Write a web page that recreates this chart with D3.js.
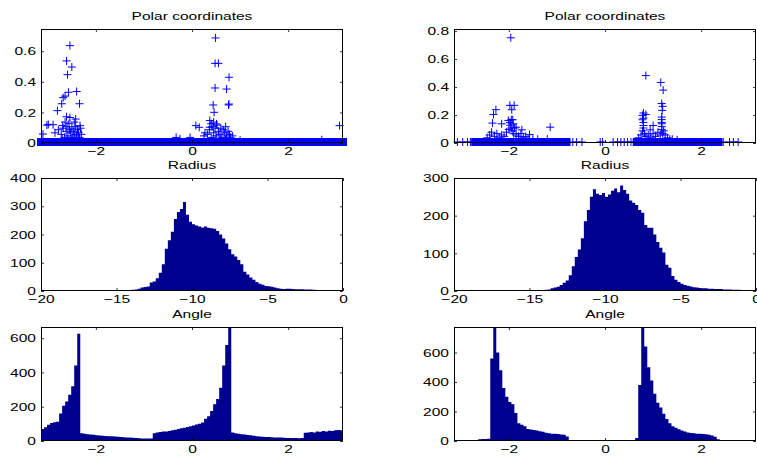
<!DOCTYPE html>
<html>
<head>
<meta charset="utf-8">
<style>
  body { margin: 0; background: #fff; }
  svg { display: block; background: #fff; }
  text { font-family: 'Liberation Sans', Arial, Helvetica, sans-serif; font-size: 11.5px; fill: #000; }
</style>
</head>
<body>
<svg width="757" height="457"></svg>

<script src="https://d3js.org/d3.v7.min.js"></script>
<script>
// ---- data ----
const PI = Math.PI;

// radius histograms: bins of 0.2 starting at -15 (everything below -15 is empty)
const radiusStart = -15, radiusBin = 0.2;
const radiusLeft = [2,2,3,3,3,4,5, 8,12,14,
  16,30,34,45,65,95,150,180,210,255,
  280,290,315,270,245,236,232,228,225,228,
  224,222,220,212,200,186,168,148,130,122,
  110,95,68,58,48,40,32,26,22,18,
  17,15,12,10,8,7,8,8,7,6,
  6,6,5,5,5,4,3,3,3,2,
  2,2,2,2,2];
const radiusRight = [1,1,2,2,2,3,4, 7,9,11,
  16,22,28,42,66,90,110,140,185,215,
  250,270,258,255,260,250,256,266,272,262,
  280,268,258,240,234,228,215,208,175,168,
  168,150,130,115,102,70,62,40,30,24,
  19,16,14,12,10,9,8,7,7,6,
  6,5,5,5,4,4,4,3,3,3,
  2,2,2,2,2];

// angle histograms: 100 bins over [-pi, pi]
const angleLeft = [70,80,95,105,110,112,160,205,230,270,
  320,440,625,45,42,40,38,36,34,32,
  30,29,28,27,26,25,24,22,21,20,
  19,18,16,15,14,14,15,45,50,52,
  55,56,58,62,66,70,74,78,82,86,
  90,96,100,108,130,145,175,215,245,310,
  440,560,690,50,45,42,40,38,35,33,
  30,28,26,25,24,23,22,21,20,20,
  19,18,18,17,17,16,17,48,50,52,
  50,55,54,58,55,60,58,62,64,62];
const angleRight = [4,4,4,5,5,4,5,5,12,13,
  14,16,560,790,600,480,360,300,265,250,
  190,120,110,100,82,78,74,72,66,62,
  56,52,50,50,47,44,42,30,5,4,
  4,4,5,4,4,4,5,4,4,4,
  4,5,4,4,4,5,4,4,5,6,
  20,380,790,640,500,410,320,260,228,185,
  150,120,100,90,80,72,65,58,55,52,
  50,50,48,46,42,38,28,12,4,4,
  3,3,4,3,3,3,4,3,3,3];

// polar scatter: [angle, radius]
const scatterLeft = [
  [-2.54,0.63],[-2.61,0.53],[-2.50,0.49],[-2.59,0.44],[-2.57,0.325],[-2.40,0.33],
  [-2.64,0.30],[-2.68,0.29],[-2.71,0.25],[-2.34,0.25],[-2.80,0.205],[-2.61,0.165],
  [-2.54,0.16],[-2.42,0.15],[-2.99,0.115],[-2.89,0.113],[-3.02,0.11],[-2.69,0.107],
  [-2.33,0.107],[-3.10,0.052],
  [-2.85,0.06],[-2.78,0.08],[-2.72,0.05],[-2.68,0.09],[-2.65,0.03],[-2.62,0.07],
  [-2.60,0.10],[-2.58,0.04],[-2.55,0.08],[-2.53,0.06],[-2.50,0.09],[-2.48,0.03],
  [-2.46,0.07],[-2.44,0.05],[-2.42,0.10],[-2.40,0.04],[-2.38,0.08],[-2.36,0.06],
  [-2.34,0.03],[-2.32,0.09],[-2.30,0.05],[-2.60,0.02],[-2.70,0.02],[-2.50,0.02],
  [-2.40,0.02],[-2.56,0.12],[-2.45,0.13],[-2.64,0.13],
  [0.49,0.68],[0.48,0.514],[0.55,0.514],[0.77,0.423],[0.48,0.353],[0.72,0.346],
  [0.44,0.242],[0.76,0.242],[0.77,0.248],[0.46,0.194],[0.37,0.14],[0.08,0.107],
  [0.15,0.096],[0.51,0.118],[0.37,0.096],
  [0.32,0.05],[0.36,0.08],[0.40,0.03],[0.42,0.10],[0.45,0.06],[0.48,0.09],
  [0.50,0.04],[0.52,0.11],[0.55,0.07],[0.58,0.05],[0.60,0.09],[0.62,0.03],
  [0.65,0.08],[0.68,0.06],[0.70,0.10],[0.72,0.04],[0.75,0.07],[0.78,0.05],
  [0.80,0.03],[0.84,0.04],[0.50,0.02],[0.60,0.02],[0.70,0.02],[0.40,0.12],
  [0.45,0.13],[-0.33,0.03],[-0.25,0.02],[-0.04,0.03],[0.25,0.04],[0.27,0.06],
  [1.00,0.012],[2.70,0.015],[3.07,0.107]
];
const scatterRight = [
  [-1.96,0.745],[-2.32,0.197],[-2.27,0.231],[-1.98,0.262],[-1.89,0.262],[-1.94,0.231],
  [-2.34,0.135],[-2.15,0.13],[-2.01,0.154],[-1.92,0.159],[-1.85,0.106],[-1.73,0.087],
  [-1.57,0.053],[-1.14,0.106],
  [-2.45,0.03],[-2.40,0.05],[-2.36,0.07],[-2.30,0.04],[-2.25,0.06],[-2.20,0.03],
  [-2.15,0.05],[-2.10,0.04],[-2.05,0.07],[-2.00,0.09],[-1.97,0.12],[-1.95,0.10],
  [-1.93,0.08],[-1.90,0.06],[-1.88,0.10],[-1.85,0.05],[-1.80,0.04],[-1.75,0.06],
  [-1.70,0.03],[-1.65,0.04],[-1.60,0.02],[-1.50,0.02],[-1.40,0.02],[-1.20,0.02],
  [-1.95,0.16],[-1.98,0.14],[-1.91,0.13],
  [0.85,0.475],[1.16,0.426],[1.21,0.371],[1.18,0.275],[1.20,0.255],[1.19,0.226],
  [0.80,0.207],[0.85,0.197],[0.78,0.159],[1.18,0.178],[0.80,0.118],[1.00,0.118],
  [1.18,0.13],[0.94,0.087],
  [0.70,0.03],[0.75,0.05],[0.78,0.08],[0.80,0.10],[0.82,0.06],[0.85,0.04],
  [0.80,0.14],[0.80,0.17],[0.90,0.05],[0.95,0.03],[1.00,0.06],[1.05,0.04],
  [1.10,0.07],[1.15,0.05],[1.18,0.09],[1.18,0.11],[1.18,0.14],[1.18,0.16],
  [1.20,0.06],[1.22,0.08],[1.25,0.05],[1.30,0.03],[1.35,0.02],[1.40,0.02],
  [1.50,0.015],[0.78,0.19],
  // sparse floor points
  [-3.07,0],[-2.96,0],[-2.86,0],[-2.80,0],[-2.72,0],[-0.67,0],[-0.59,0],[-0.48,0],
  [-0.10,0],[-0.05,0],[0.17,0],[0.26,0],[0.33,0],[0.40,0],[0.47,0],[0.54,0],[0.61,0],
  [2.46,0],[2.59,0],[2.67,0],[2.77,0]
];
// angle ranges where the points at radius ~0 form a solid strip
const floorLeft = [[-PI, PI]];
const floorRight = [[-2.70, -0.80], [0.66, 2.36]];

// axis ticks
const angleTicks = [-2, 0, 2];
const radiusTicks = [-20, -15, -10, -5, 0];
const polarYTicksL = [0, 0.2, 0.4, 0.6];
const polarYTicksR = [0, 0.2, 0.4, 0.6, 0.8];
const radYTicksL = [0, 100, 200, 300, 400];
const radYTicksR = [0, 100, 200, 300];
const angYTicks = [0, 200, 400, 600];

// ---- drawing ----
const svg = d3.select("svg");
const STRETCH = 1.35;
const cols = [41, 454], axW = 302;
const rows = [[29, 143], [178, 291], [327, 441]];
const fmt = d => String(d).replace("-", "\u2212");
let clipN = 0;

function panel(col, row, xDomain, yDomain, title) {
  const x0 = cols[col], [y0, y1] = rows[row];
  const x = d3.scaleLinear().domain(xDomain).range([x0, x0 + axW]);
  const y = d3.scaleLinear().domain(yDomain).range([y1, y0]);
  const id = "clip" + (clipN++);
  svg.append("clipPath").attr("id", id)
    .append("rect").attr("x", x0).attr("y", y0).attr("width", axW).attr("height", y1 - y0);
  const g = svg.append("g");
  svg.append("text")
    .attr("text-anchor", "middle")
    .attr("transform", `translate(${x0 + axW / 2},${y0 - 9}) scale(${STRETCH},1)`)
    .text(title);
  return { x, y, g, id, x0, y0, y1 };
}

function axes(p, xTicks, yTicks) {
  const a = svg.append("g");
  const bottom = a.append("g").attr("transform", `translate(0,${p.y1})`)
    .call(d3.axisBottom(p.x).tickValues(xTicks).tickSize(-3).tickPadding(4).tickFormat(fmt));
  bottom.selectAll("text").attr("transform", `scale(${STRETCH},1)`);
  a.append("g").attr("transform", `translate(0,${p.y0})`)
    .call(d3.axisTop(p.x).tickValues(xTicks).tickSize(-3).tickFormat(""));
  const left = a.append("g").attr("transform", `translate(${p.x0},0)`)
    .call(d3.axisLeft(p.y).tickValues(yTicks).tickSize(-3).tickPadding(5).tickFormat(fmt));
  left.selectAll("text").attr("x", -5 / STRETCH).attr("transform", `scale(${STRETCH},1)`);
  a.append("g").attr("transform", `translate(${p.x0 + axW},0)`)
    .call(d3.axisRight(p.y).tickValues(yTicks).tickSize(-3).tickFormat(""));
  a.selectAll(".domain").remove();
  a.selectAll(".tick line").attr("stroke", "#000").attr("stroke-width", 0.8);
  a.append("rect")
    .attr("x", p.x0 + 0.5).attr("y", p.y0 + 0.5)
    .attr("width", axW - 1).attr("height", p.y1 - p.y0 - 1)
    .attr("fill", "none").attr("stroke", "#000").attr("stroke-width", 1);
}

// histogram drawn as one stepped area so neighbouring bars have no seams
function hist(p, counts, start, width) {
  const yMax = p.y.domain()[1];
  const steps = counts.map((c, i) => [start + i * width, c]);
  steps.push([start + counts.length * width, counts[counts.length - 1]]);
  const area = d3.area()
    .curve(d3.curveStepAfter)
    .x(d => p.x(d[0]))
    .y0(p.y(0))
    .y1(d => p.y(Math.min(d[1], yMax)));
  p.g.append("path")
    .attr("clip-path", `url(#${p.id})`)
    .attr("d", area(steps))
    .attr("fill", "#00008f");
}

function polar(p, floor, points) {
  p.g.selectAll(".floor").data(floor).join("rect")
    .attr("x", d => p.x(d[0]) - 4)
    .attr("width", d => p.x(d[1]) - p.x(d[0]) + 8)
    .attr("y", p.y(0) - 5)
    .attr("height", 8)
    .attr("fill", "#0000ff");
  p.g.selectAll(".pt").data(points).join("path")
    .attr("transform", d => `translate(${p.x(d[0])},${p.y(d[1]) - 1})`)
    .attr("d", "M-4,0H4M0,-4V4")
    .attr("stroke", "#0000ff")
    .attr("stroke-width", 1)
    .attr("fill", "none");
}

// row 1: polar coordinates
const pL = panel(0, 0, [-PI, PI], [0, 0.745], "Polar coordinates");
polar(pL, floorLeft, scatterLeft);
axes(pL, angleTicks, polarYTicksL);
const pR = panel(1, 0, [-PI, PI], [0, 0.815], "Polar coordinates");
polar(pR, floorRight, scatterRight);
axes(pR, angleTicks, polarYTicksR);

// row 2: radius
const rL = panel(0, 1, [-20, 0], [0, 400], "Radius");
hist(rL, radiusLeft, radiusStart, radiusBin);
axes(rL, radiusTicks, radYTicksL);
const rR = panel(1, 1, [-20, 0], [0, 300], "Radius");
hist(rR, radiusRight, radiusStart, radiusBin);
axes(rR, radiusTicks, radYTicksR);

// row 3: angle
const aL = panel(0, 2, [-PI, PI], [0, 665], "Angle");
hist(aL, angleLeft, -PI, 2 * PI / angleLeft.length);
axes(aL, angleTicks, angYTicks);
const aR = panel(1, 2, [-PI, PI], [0, 773], "Angle");
hist(aR, angleRight, -PI, 2 * PI / angleRight.length);
axes(aR, angleTicks, angYTicks);
</script>
</body>
</html>
